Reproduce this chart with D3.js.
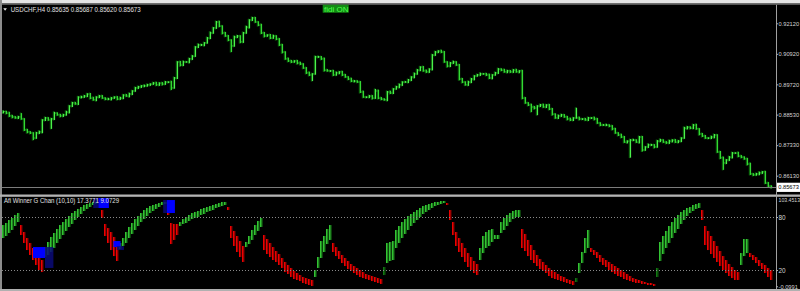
<!DOCTYPE html>
<html><head><meta charset="utf-8">
<script src="https://cdn.jsdelivr.net/npm/d3@7"></script>
<style>html,body{margin:0;padding:0;background:#000;overflow:hidden}svg{display:block}</style>
</head><body><svg id="c" width="800" height="291"></svg>
<script>
// ---------- DATA ----------
const symbolLabel = "USDCHF,H4";
const lastOHLC = ["0.85635", "0.85687", "0.85620", "0.85673"];
const fdiLabel = "fidi ON";
const firstOpen = 0.8861;
const closes = [
0.8865,0.8859,0.8848,0.8844,0.8840,0.8844,0.8836,0.8793,0.8785,0.8781,
0.8761,0.8781,0.8785,0.8832,0.8840,0.8832,0.8836,0.8859,0.8852,0.8848,
0.8852,0.8863,0.8887,0.8899,0.8895,0.8922,0.8922,0.8926,0.8934,0.8918,
0.8911,0.8922,0.8926,0.8918,0.8914,0.8914,0.8918,0.8922,0.8914,0.8918,
0.8930,0.8926,0.8934,0.8946,0.8958,0.8962,0.8966,0.8966,0.8970,0.8973,
0.8977,0.8970,0.8977,0.8973,0.8981,0.8981,0.8958,0.8997,0.9060,0.9048,
0.9060,0.9060,0.9072,0.9083,0.9119,0.9127,0.9127,0.9135,0.9154,0.9174,
0.9194,0.9217,0.9201,0.9174,0.9162,0.9146,0.9123,0.9158,0.9162,0.9139,
0.9174,0.9197,0.9225,0.9233,0.9217,0.9205,0.9174,0.9162,0.9166,0.9154,
0.9162,0.9150,0.9127,0.9099,0.9072,0.9064,0.9060,0.9064,0.9056,0.9052,
0.9036,0.9017,0.9009,0.9013,0.9080,0.9080,0.9072,0.9028,0.9025,0.9025,
0.9009,0.9017,0.9021,0.9009,0.9001,0.8993,0.8985,0.8985,0.8981,0.8942,
0.8922,0.8922,0.8926,0.8918,0.8946,0.8918,0.8914,0.8911,0.8942,0.8938,
0.8954,0.8962,0.8970,0.8981,0.8981,0.8989,0.9001,0.9013,0.9028,0.9040,
0.9025,0.9021,0.9032,0.9087,0.9099,0.9103,0.9099,0.9060,0.9044,0.9056,
0.9060,0.9048,0.8993,0.8981,0.8970,0.8981,0.8993,0.9005,0.9009,0.9013,
0.9013,0.9009,0.8997,0.9009,0.9017,0.9032,0.9028,0.9021,0.9025,0.9021,
0.9028,0.9021,0.9025,0.8918,0.8899,0.8891,0.8883,0.8879,0.8887,0.8891,
0.8883,0.8891,0.8875,0.8855,0.8840,0.8848,0.8852,0.8844,0.8836,0.8832,
0.8840,0.8840,0.8836,0.8836,0.8832,0.8840,0.8840,0.8836,0.8820,0.8812,
0.8812,0.8812,0.8808,0.8797,0.8781,0.8773,0.8765,0.8745,0.8749,0.8753,
0.8753,0.8745,0.8765,0.8714,0.8726,0.8734,0.8734,0.8726,0.8749,0.8753,
0.8745,0.8742,0.8749,0.8753,0.8745,0.8749,0.8761,0.8800,0.8804,0.8800,
0.8812,0.8797,0.8777,0.8769,0.8761,0.8761,0.8765,0.8773,0.8706,0.8683,
0.8663,0.8675,0.8686,0.8702,0.8702,0.8690,0.8686,0.8679,0.8659,0.8620,
0.8616,0.8620,0.8624,0.8628,0.8584,0.8572,0.85673];
// upper / lower shadows, in pips
const wickHi = [
4,3,5,4,3,4,15,3,4,3, 3,4,5,3,4,3,4,5,3,4, 4,5,3,4,4,3,5,4,3,4, 5,3,4,4,3,5,4,3,4,5,
3,4,5,3,4,4,3,5,4,3, 4,5,3,4,4,3,5,4,3,4, 5,3,4,4,3,5,4,3,4,5, 3,4,5,3,4,4,3,5,4,3,
4,5,3,4,4,3,5,4,3,4, 5,3,4,4,3,5,4,3,4,5, 3,4,5,3,4,4,3,5,4,3, 4,5,3,4,4,3,5,4,3,4,
5,3,4,4,8,5,4,3,4,5, 3,4,5,3,4,4,3,5,4,3, 4,5,3,4,4,3,5,4,3,4, 5,3,4,4,3,5,4,3,4,5,
3,4,5,3,4,4,3,5,4,3, 4,5,3,4,4,3,5,4,3,4, 5,3,4,4,3,5,4,3,4,5, 3,40,5,3,4,4,3,5,4,3,
4,5,3,4,4,3,5,4,3,4, 5,3,4,4,3,5,4,3,4,5, 3,4,5,3,4,4,3,5,4,3, 4,5,3,4,4,3,5,4,3,4,
5,3,4,4,3,5,4,3,4,5, 3,4,5,3,4,4,3];
const wickLo = [
3,4,4,5,3,4,3,4,5,4, 8,3,4,5,4,3,35,4,3,5, 4,3,5,4,3,4,5,3,4,4, 3,5,4,3,4,4,5,3,4,3,
4,3,5,4,3,4,4,5,3,4, 3,4,4,5,3,4,8,3,4,5, 4,3,5,4,3,4,4,5,3,4, 3,4,4,5,3,4,24,3,4,5,
4,3,5,4,3,4,4,5,3,4, 3,4,4,5,3,4,4,3,5,4, 3,4,4,24,3,4,4,5,3,4, 4,3,5,4,3,4,4,5,3,4,
3,4,4,5,3,4,4,3,5,4, 4,3,5,4,3,4,4,5,3,4, 3,4,4,5,3,4,4,3,5,4, 4,3,5,4,3,4,4,5,3,4,
3,4,4,5,3,4,4,3,5,4, 4,3,5,4,3,4,20,5,28,4, 3,4,4,5,3,4,4,3,5,4, 4,3,5,4,3,4,4,5,3,4,
3,4,4,5,3,4,4,3,5,65, 4,3,5,6,3,4,4,5,3,4, 3,4,4,5,3,4,4,3,5,4, 4,3,5,4,3,4,4,5,3,4,
27,4,4,5,3,4,4,3,5,4, 4,3,5,4,3,4,4];
const priceTicks = [0.92120, 0.90920, 0.89720, 0.88530, 0.87330, 0.86130];
const bidPrice = 0.85673;

// indicator
const indName = "Afi Winner G Chan (10,10)";
const indReadout = ["17.3771", "9.0729"];
const indTop = [
70.9,73.2,76.6,78.9,82.3,84.5,
70.9,63.0,56.2,50.6,44.9,40.4,35.8,31.3,
46.0,51.7,57.4,61.9,66.4,70.9,74.3,77.7,81.1,84.5,86.8,89.1,91.3,93.6,94.7,95.8,97.0,97.0,
null,
87.9,72.1,67.5,63.0,57.4,51.7,
50.6,56.2,63.0,68.7,73.2,77.7,81.1,84.5,87.9,90.2,92.4,93.6,94.7,95.8,97.0,97.0,
90.2,73.2,72.1,72.1,
74.3,77.7,80,82.3,84.5,85.7,86.8,89.1,90.2,91.3,92.4,93.6,94.7,95.8,97.0,97.0,
91.3,69.8,64.2,58.5,52.8,47.2,
51.7,58.5,65.3,70.9,75.5,78.9,
59.6,55.1,50.6,46.0,41.5,38.1,33.6,29.1,25.7,22.3,18.9,16.6,14.3,12.1,10.9,9.8,8.7,
20,34.7,52.8,58.5,66.4,70.9,
50.6,46.0,41.5,37.0,33.6,30.2,26.8,24.5,22.3,20,17.7,15.5,14.3,13.2,12.1,10.9,9.8,
23.4,
50.6,51.7,52.8,65.3,69.8,74.3,77.7,81.1,83.4,85.7,87.9,90.2,92.4,93.6,94.7,95.8,97.0,97.0,98.1,98.1,
95.8,87.9,74.3,63.0,56.2,50.6,44.9,39.2,34.7,30.2,26.8,
44.9,58.5,63.0,65.3,66.4,59.6,59.6,74.3,78.9,82.3,84.5,86.8,87.9,87.9,
66.4,60.8,54.0,48.3,42.6,37.0,32.5,29.1,25.7,22.3,20,17.7,15.5,13.2,12.1,9.8,8.7,7.5,
10.9,
27.9,40.4,56.2,65.3,
44.9,42.6,40.4,37.0,33.6,31.3,29.1,26.8,24.5,22.3,20,17.7,15.5,13.2,10.9,9.8,8.7,7.5,6.4,5.3,5.3,4.2,
22.3,
51.7,58.5,64.2,69.8,74.3,78.9,82.3,85.7,87.9,90.2,91.3,93.6,94.7,95.8,
87.9,69.8,64.2,58.5,52.8,47.2,41.5,35.8,31.3,26.8,23.4,20,17.7,
39.2,55.1,55.1,
39.2,37.0,34.7,31.3,27.9,25.7,22.3,20];
const indBot = [
56.2,58.5,61.9,65.3,69.8,74.3,
59.6,50.6,42.6,37.0,31.3,25.7,20,17.7,
34.7,37.0,40.4,44.9,50.6,55.1,59.6,64.2,68.7,72.1,76.6,80,83.4,86.8,89.1,91.3,93.6,94.7,
null,
78.9,58.5,50.6,42.6,35.8,30.2,
43.8,47.2,50.6,56.2,60.8,65.3,69.8,74.3,77.7,81.1,84.5,86.8,89.1,91.3,93.6,94.7,
82.3,49.4,54.0,59.6,
69.8,72.1,73.2,75.5,77.7,78.9,80,82.3,83.4,85.7,86.8,87.9,90.2,91.3,92.4,93.6,
87.9,56.2,47.2,40.4,34.7,29.1,
46.0,49.4,54.0,59.6,64.2,68.7,
42.6,38.1,34.7,31.3,29.1,25.7,22.3,17.7,15.5,12.1,9.8,8.7,7.5,5.3,4.2,3.0,1.9,
12.1,22.3,33.6,40.4,49.4,54.0,
40.4,35.8,32.5,27.9,24.5,21.1,18.9,16.6,14.3,12.1,10.9,9.8,8.7,7.5,6.4,5.3,4.2,
14.3,
27.9,30.2,31.3,44.9,50.6,56.2,60.8,65.3,69.8,73.2,76.6,80,83.4,85.7,87.9,90.2,92.4,93.6,94.7,95.8,
93.6,76.6,59.6,47.2,40.4,34.7,29.1,23.4,20,16.6,14.3,
31.3,39.2,44.9,47.2,51.7,55.1,55.1,61.9,65.3,69.8,74.3,77.7,80,80,
44.9,41.5,35.8,31.3,27.9,24.5,21.1,18.9,16.6,13.2,10.9,9.8,8.7,7.5,6.4,5.3,4.2,3.0,
6.4,
16.6,27.9,39.2,44.9,
40.4,37.0,33.6,29.1,25.7,23.4,20,17.7,15.5,13.2,12.1,9.8,8.7,7.5,6.4,5.3,5.3,4.2,4.2,3.0,3.0,1.9,
12.1,
30.2,38.1,44.9,50.6,56.2,61.9,66.4,72.1,76.6,81.1,84.5,86.8,89.1,90.2,
76.6,48.3,42.6,38.1,33.6,29.1,24.5,20,16.6,13.2,10.9,8.7,8.7,
25.7,35.8,39.2,
34.7,31.3,27.9,24.5,21.1,16.6,12.1,8.7];
// colour runs of the histogram: first bar of each run and its kind
const runStart = [0,6,14,32,33,39,55,59,75,81,87,104,110,127,128,148,159,173,191,192,196,218,219,233,246,249];
const runKind  = ["up","dn","up","none","dn","up","dn","up","dn","up","dn","up","dn","flat","up","dn","up","dn","flat","up","dn","flat","up","dn","up","dn"];
// blue signal boxes (bar index span, value span)
const boxFrom  = [10, 14, 30.1, 31.8, 36.8, 37.9, 53.4, 54.6];
const boxTo    = [14, 16.8, 31.8, 35.3, 39.2, 40.3, 54.6, 57.3];
const boxHi    = [46.0, 46.0, 101.5, 101.5, 52.8, 46.9, 99.2, 99.2];
const boxLo    = [33.6, 22.3, 90.2, 90.2, 46.0, 42.6, 84.5, 84.5];
const boxKind  = ["bright","dark","dark","bright","bright","dark","dark","bright"];
const indLevels = [80, 20];
const indAxisVals = [103.4513, 80, 20, -0.0991];
const indAxisText = ["103.4513", "80", "20", "-0.0991"];

// ---------- DRAW ----------
const W = 800, H = 291;
const font = "'Liberation Sans', Arial, sans-serif";
const svg = d3.select("#c");
const axisX = 776;
svg.append("rect").attr("width", W).attr("height", H).attr("fill", "#000");

const x = d3.scaleLinear().domain([0, closes.length - 1]).range([3, 771]);
const yP = d3.scaleLinear().domain([0.86130, 0.92120]).range([175.7, 23.3]);
const yI = d3.scaleLinear().domain([20, 80]).range([270, 217]);

// price bars
const bars = closes.map((c, i) => {
  const o = i ? closes[i - 1] : firstOpen;
  return {i, o, c, h: Math.max(o, c) + (wickHi[i] || 0) * 1e-4, l: Math.min(o, c) - (wickLo[i] || 0) * 1e-4};
});
const pg = svg.append("g");
pg.selectAll("line.gl").data(bars).join("line").attr("class", "gl")
  .attr("x1", d => x(d.i) - 0.4).attr("x2", d => x(d.i) - 0.4)
  .attr("y1", d => yP(d.h) - 0.5).attr("y2", d => yP(d.l) + 0.5)
  .attr("stroke", "#0c600c").attr("stroke-width", 1.6);
pg.selectAll("line.op").data(bars).join("line").attr("class", "op")
  .attr("x1", d => x(d.i) - 1.2).attr("x2", d => x(d.i) + 0.5)
  .attr("y1", d => yP(d.o)).attr("y2", d => yP(d.o))
  .attr("stroke", "#178a17").attr("stroke-width", 1);
pg.selectAll("line.cl").data(bars).join("line").attr("class", "cl")
  .attr("x1", d => x(d.i) + 0.5).attr("x2", d => x(d.i) + 1.8)
  .attr("y1", d => yP(d.c)).attr("y2", d => yP(d.c))
  .attr("stroke", "#22b022").attr("stroke-width", 1);
pg.selectAll("line.hl").data(bars).join("line").attr("class", "hl")
  .attr("x1", d => x(d.i) + 0.5).attr("x2", d => x(d.i) + 0.5)
  .attr("y1", d => yP(d.h)).attr("y2", d => yP(d.l))
  .attr("stroke", d => d.c >= d.o ? "#4cf04c" : "#34d834").attr("stroke-width", 1.2);

// bid line
svg.append("line").attr("x1", 2).attr("x2", axisX).attr("y1", Math.round(yP(bidPrice)) + 0.5).attr("y2", Math.round(yP(bidPrice)) + 0.5)
  .attr("stroke", "#7c7c7c").attr("stroke-width", 1);

// indicator histogram
const kindOf = i => { let k = "none"; runStart.forEach((s, j) => { if (i >= s) k = runKind[j]; }); return k; };
const hist = indTop.map((t, i) => ({i, t, b: indBot[i], k: kindOf(i)})).filter(d => d.t != null && d.b != null && d.k !== "none");
const fillMain = {up: "#33c433", dn: "#ee0000", flat: "#127a12"};
const fillEdge = {up: "#136a13", dn: "#6a0000", flat: "#0b4d0b"};
const ig = svg.append("g");
ig.selectAll("rect.e").data(hist).join("rect").attr("class", "e")
  .attr("x", d => x(d.i) + 0.6).attr("width", 1)
  .attr("y", d => yI(d.t)).attr("height", d => Math.max(1, yI(d.b) - yI(d.t)))
  .attr("fill", d => fillEdge[d.k]);
ig.selectAll("rect.m").data(hist).join("rect").attr("class", "m")
  .attr("x", d => x(d.i) - 1).attr("width", 1.6)
  .attr("y", d => yI(d.t)).attr("height", d => Math.max(1, yI(d.b) - yI(d.t)))
  .attr("fill", d => fillMain[d.k]);

// blue boxes
const boxes = boxFrom.map((f, j) => ({f, t: boxTo[j], hi: boxHi[j], lo: boxLo[j], k: boxKind[j]}));
svg.append("g").selectAll("rect").data(boxes).join("rect")
  .attr("x", d => x(d.f)).attr("width", d => x(d.t) - x(d.f))
  .attr("y", d => yI(d.hi)).attr("height", d => yI(d.lo) - yI(d.hi))
  .attr("fill", d => d.k === "bright" ? "#0000ff" : "#0a0a78")
  .attr("fill-opacity", d => d.k === "bright" ? 1 : 0.85);

// level lines
svg.append("g").selectAll("line").data(indLevels).join("line")
  .attr("x1", 2).attr("x2", axisX).attr("y1", d => Math.round(yI(d)) + 0.5).attr("y2", d => Math.round(yI(d)) + 0.5)
  .attr("stroke", "#8a8a8a").attr("stroke-width", 1).attr("stroke-dasharray", "1,2");

// frame
svg.append("rect").attr("x", 0).attr("y", 0).attr("width", W).attr("height", 3.5).attr("fill", "#e4e4e4");
svg.append("rect").attr("x", 0).attr("y", 3.5).attr("width", W).attr("height", 1.3).attr("fill", "#6a6a6a");
svg.append("rect").attr("x", 0).attr("y", 0).attr("width", 2).attr("height", H).attr("fill", "#8c8c8c");
svg.append("rect").attr("x", 0).attr("y", 194.5).attr("width", W).attr("height", 2.3).attr("fill", "#b4b4b4");
svg.append("rect").attr("x", 0).attr("y", 289).attr("width", W).attr("height", 2).attr("fill", "#b0b0b0");

const styleLabels = sel => sel.attr("fill", "#d4d4d4").attr("font-family", font)
  .attr("font-size", function () { return this.textContent.length >= 8 ? "5.2px" : (this.textContent.length >= 7 ? "5.7px" : "6.4px"); });

// price axis
const pAxis = d3.axisRight(yP).tickValues(priceTicks).tickFormat(d3.format(".5f")).tickSize(2).tickPadding(0.5);
const pa = svg.append("g").attr("transform", `translate(${axisX},0)`).call(pAxis);
pa.select(".domain").remove();
pa.selectAll("line").attr("stroke", "#b0b0b0");
styleLabels(pa.selectAll("text"));
svg.append("line").attr("x1", axisX + 0.5).attr("x2", axisX + 0.5).attr("y1", 4.8).attr("y2", 289).attr("stroke", "#a0a0a0");

// bid label
const by = yP(bidPrice);
svg.append("rect").attr("x", axisX + 1).attr("y", by - 4.6).attr("width", 24).attr("height", 9.2).attr("fill", "#ffffff");
svg.append("text").attr("x", axisX + 2.3).attr("y", by).attr("dy", "0.35em").attr("fill", "#000")
  .attr("font-size", "5.7px").attr("font-family", font)
  .text(d3.format(".5f")(bidPrice));

// indicator axis
const iAxis = d3.axisRight(yI).tickValues(indAxisVals).tickFormat((d, j) => indAxisText[j]).tickSize(2).tickPadding(0.5);
const ia = svg.append("g").attr("transform", `translate(${axisX},0)`).call(iAxis);
ia.select(".domain").remove();
ia.selectAll("line").attr("stroke", "#b0b0b0");
styleLabels(ia.selectAll("text"));
ia.selectAll(".tick").filter(d => d === indAxisVals[0]).attr("transform", `translate(0,${yI(indAxisVals[0]) + 3.7})`);
ia.selectAll(".tick").filter(d => d === indAxisVals[0]).select("line").remove();
ia.selectAll(".tick").filter(d => d === indAxisVals[3]).attr("transform", `translate(0,${yI(indAxisVals[3]) - 1})`);

// header
svg.append("path").attr("d", "M3.3,8.3 L6.9,8.3 L5.1,10.8 Z").attr("fill", "#e8e8e8");
svg.append("text").attr("x", 10.7).attr("y", 11.6).attr("fill", "#e0e0e0").attr("font-size", "6.3px").attr("font-family", font)
  .attr("textLength", 130).attr("lengthAdjust", "spacingAndGlyphs")
  .text(symbolLabel + "  " + lastOHLC.join(" "));
// fdi badge
svg.append("rect").attr("x", 322.7).attr("y", 4.7).attr("width", 26).attr("height", 8).attr("fill", "#138c13");
svg.append("text").attr("x", 324).attr("y", 11.9).attr("fill", "#4cff4c").attr("font-size", "8px").attr("font-family", font)
  .attr("textLength", 24.5).attr("lengthAdjust", "spacingAndGlyphs").text(fdiLabel);
// indicator title
svg.append("text").attr("x", 4).attr("y", 202.8).attr("fill", "#e0e0e0").attr("font-size", "6.3px").attr("font-family", font)
  .attr("textLength", 115).attr("lengthAdjust", "spacingAndGlyphs")
  .text(indName + " " + indReadout.join(" "));
</script></body></html>
